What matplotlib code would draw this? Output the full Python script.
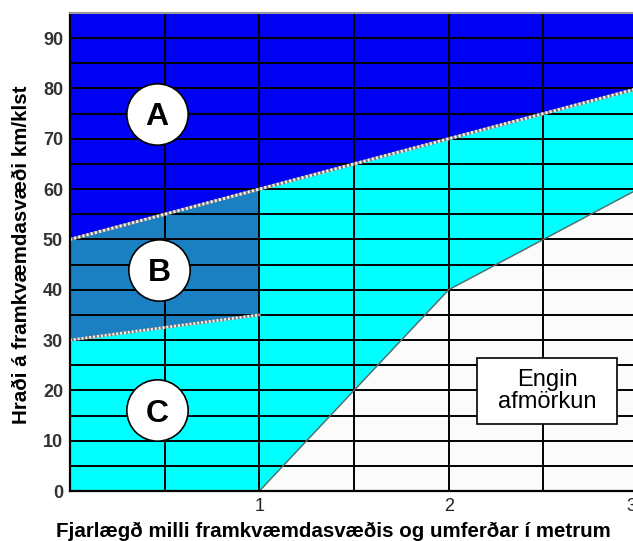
import matplotlib
matplotlib.use("Agg")
import matplotlib.pyplot as plt
from matplotlib.patches import Rectangle
from matplotlib.transforms import ScaledTranslation
import numpy as np

# ---- data ----
a_x = [0, 3]
a_low = [50, 80]
b_x = [0, 1]
b_top = [50, 60]
b_bottom = [30, 35]
white_x = [1, 2, 3]
white_top = [0, 40, 60]
y_ticks = [0, 10, 20, 30, 40, 50, 60, 70, 80, 90]
x_ticks = [1, 2, 3]
labels = ["A", "B", "C"]
label_x = [0.46, 0.47, 0.46]
label_y = [75, 44, 16]
box_text = "Engin\nafmörkun"
box_xy = (2.52, 19.8)

plt.rcParams['font.family'] = ['Liberation Sans', 'DejaVu Sans']

fig = plt.figure(figsize=(6.33, 5.41), dpi=100)
ax = fig.add_axes([70/633, 50/541, (638-70)/633, (491-13)/541])
ax.set_xlim(0, 3)
ax.set_ylim(0, 95)

BLUE = '#0000F2'
STEEL = '#1A80C2'
CYAN = '#00FFFF'
WHITE = '#FBFBFB'

ax.set_facecolor(CYAN)
ax.fill_between(a_x, a_low, [95, 95], color=BLUE, lw=0, zorder=1)
ax.fill_between(b_x, b_bottom, b_top, color=STEEL, lw=0, zorder=1)
ax.fill_between(white_x, 0, white_top, color=WHITE, lw=0, zorder=1)

# grid
for yv in np.arange(5, 95, 5):
    ax.axhline(yv, color='black', lw=1.4, zorder=2)
for xv in np.arange(0.5, 3.0, 0.5):
    ax.axvline(xv, color='black', lw=1.4, zorder=2)

# boundaries
ax.plot(a_x, a_low, color='#777777', lw=2.2, zorder=3, solid_capstyle='butt')
ax.plot(a_x, a_low, color='#f0f0f0', lw=2.2, zorder=3, dashes=(0.7, 0.7))
ax.plot(b_x, b_bottom, color='#777777', lw=2.0, zorder=3)
ax.plot(b_x, b_bottom, color='#f0f0f0', lw=2.0, zorder=3, dashes=(0.7, 0.7))
ax.plot(white_x, white_top, color='#666666', lw=1.0, zorder=3)

# circles with letters
for lab, lx, ly in zip(labels, label_x, label_y):
    ax.scatter([lx], [ly], s=1950, facecolor='white', edgecolor='black', lw=1.2, zorder=5)
    ax.text(lx, ly, lab, ha='center', va='center_baseline', fontsize=23,
            fontweight='semibold', color='black', zorder=6)

# "Engin afmörkun" box
ax.add_patch(Rectangle((2.15, 13.3), 0.74, 13.1, facecolor='white', edgecolor='black',
                       lw=1.2, zorder=5))
ax.text(box_xy[0], box_xy[1], box_text, ha='center', va='center', fontsize=17,
        linespacing=1.0, zorder=6)

ax.set_yticks(y_ticks)
ax.set_yticklabels([str(v) for v in y_ticks], fontsize=13, fontweight='bold', color='#333333')
ax.set_xticks(x_ticks)
ax.set_xticklabels([str(v) for v in x_ticks], fontsize=13, color='#222222')
ax.tick_params(length=0, pad=5)
lbl3 = ax.get_xticklabels()[-1]
lbl3.set_transform(lbl3.get_transform() + ScaledTranslation(-7/100, 0, fig.dpi_scale_trans))

for s in ['left', 'bottom']:
    ax.spines[s].set_color('black')
    ax.spines[s].set_linewidth(1.6)
ax.spines['top'].set_color('#999999')
ax.spines['top'].set_linewidth(1.5)
ax.spines['right'].set_visible(False)
for s in ax.spines.values():
    s.set_zorder(4)

ax.set_ylabel('Hraði á framkvæmdasvæði km/klst', fontsize=14.8, fontweight='bold')
ax.yaxis.set_label_coords((31 - 70) / (638 - 70), (491 - 255) / (491 - 13))
ax.set_xlabel('Fjarlægð milli framkvæmdasvæðis og umferðar í metrum', fontsize=14.8,
              fontweight='bold')
ax.xaxis.set_label_coords((333 - 70) / (638 - 70), -(522 - 491) / (491 - 13))

fig.savefig('out.png', dpi=100, facecolor='white')
